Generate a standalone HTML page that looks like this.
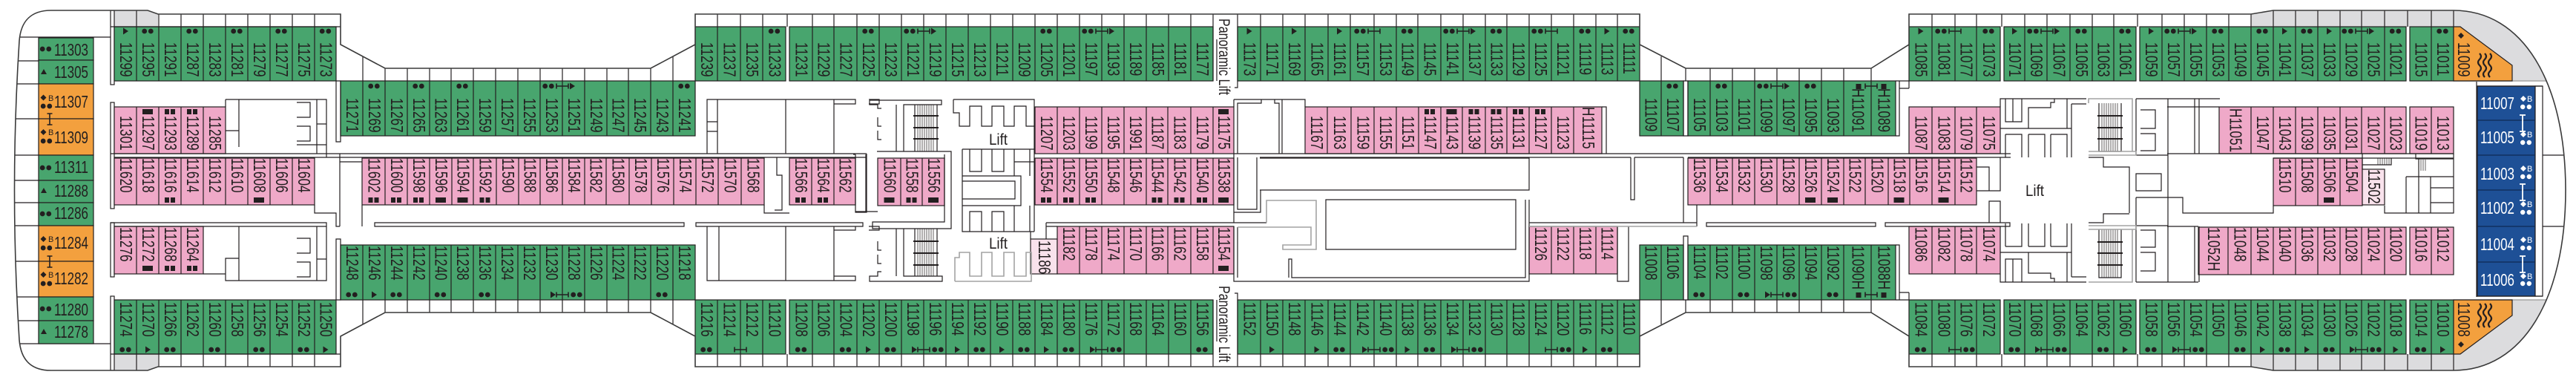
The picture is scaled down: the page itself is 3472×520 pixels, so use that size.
<!DOCTYPE html>
<html><head><meta charset="utf-8"><style>
html,body{margin:0;padding:0;background:#fff;width:3472px;height:520px;overflow:hidden}
svg{display:block}
.g{fill:#48a56e;stroke:#231f20;stroke-width:1.2}
.p{fill:#efa9c8;stroke:#231f20;stroke-width:1.2}
.lp{fill:#f9e2ec;stroke:#231f20;stroke-width:1.2}
.o{fill:#f3a03e;stroke:#231f20;stroke-width:1.2}
.w{fill:#fff;stroke:#231f20;stroke-width:1.2}
.gy{fill:#dcdcde}
.ln{fill:none;stroke:#231f20;stroke-width:1.2}
.ht{fill:none;stroke:#231f20;stroke-width:.7}
.lg{fill:none;stroke:#a3a3a3;stroke-width:1.6}
.dt{fill:none;stroke:#231f20;stroke-width:6.8;stroke-linecap:round}
.dw{fill:none;stroke:#fff;stroke-width:6.4;stroke-linecap:round}
.cn{fill:none;stroke:#231f20;stroke-width:1.6}
.cw{fill:none;stroke:#fff;stroke-width:1.8}
.f{fill:#231f20}
.fw{fill:#fff}
.wv{fill:none;stroke:#231f20;stroke-width:2.2}
.t text{font-family:"Liberation Sans",sans-serif;font-size:23px;fill:#231f20;dominant-baseline:central}
.h{font-family:"Liberation Sans",sans-serif;font-size:23px;fill:#231f20}
.hw{font-family:"Liberation Sans",sans-serif;font-size:23px;fill:#fff}
.sb{font-family:"Liberation Sans",sans-serif;font-size:11px;fill:#231f20}
.sbw{font-family:"Liberation Sans",sans-serif;font-size:11px;fill:#fff}
.lf{font-family:"Liberation Sans",sans-serif;font-size:21px;fill:#231f20}
</style></head><body>
<svg width="3472" height="520" viewBox="0 0 3472 520" xmlns="http://www.w3.org/2000/svg">
<clipPath id="hc"><path d="M213 19H459V60L519 92H877L937 60V19H2210V60L2272 92H2522L2573 60V19H3034L3064 14H3307C3400 14 3458 110 3458 256.5C3458 403 3400 499 3307 499H3064L3034 494H2573V453L2522 421H2272L2210 453V494H937V453L877 421H519L459 453V494H213L199 499H69C40 499 28 483 26 458Q13 256.5 26 55C28 30 40 14 69 14H199Z"/></clipPath>
<path d="M213 19H459V60L519 92H877L937 60V19H2210V60L2272 92H2522L2573 60V19H3034L3064 14H3307C3400 14 3458 110 3458 256.5C3458 403 3400 499 3307 499H3064L3034 494H2573V453L2522 421H2272L2210 453V494H937V453L877 421H519L459 453V494H213L199 499H69C40 499 28 483 26 458Q13 256.5 26 55C28 30 40 14 69 14H199Z" fill="#fff"/>
<g clip-path="url(#hc)">
<g class="gy"><rect x="149" y="0" width="64" height="36"/><rect x="149" y="477" width="64" height="43"/><rect x="3034" y="0" width="273" height="36"/><rect x="3307" y="0" width="170" height="109"/><rect x="3034" y="477" width="273" height="43"/><rect x="3307" y="404" width="170" height="116"/></g>
<path class="ln" d="M0 50H149M0 82H52M0 113H52M0 160H52M0 209H52M0 243H52M0 273H52M0 304H52M0 352H52M0 400H52M0 432H52M0 463H149M3427 209H3470M3427 305H3470"/>
<path class="lg" d="M3307 109H3470M3307 404H3470"/>
<rect class="g" x="52" y="51" width="74" height="30"/><rect class="g" x="52" y="81" width="74" height="32"/><rect class="o" x="52" y="113" width="74" height="47"/><rect class="o" x="52" y="160" width="74" height="49"/><rect class="g" x="52" y="209" width="74" height="34"/><rect class="g" x="52" y="243" width="74" height="30"/><rect class="g" x="52" y="273" width="74" height="31"/><rect class="o" x="52" y="304" width="74" height="48"/><rect class="o" x="52" y="352" width="74" height="48"/><rect class="g" x="52" y="400" width="74" height="32"/><rect class="g" x="52" y="432" width="74" height="31"/>
<rect class="w" x="149" y="14" width="5" height="100"/><rect class="w" x="149" y="138" width="5" height="143"/><rect class="w" x="149" y="300" width="5" height="73"/><rect class="w" x="149" y="399" width="5" height="100"/>
<rect class="g" x="154" y="36" width="299" height="73"/><rect class="g" x="154" y="404" width="299" height="73"/>
<rect class="g" x="459" y="109" width="478" height="74"/><rect class="g" x="459" y="330" width="478" height="74"/>
<rect class="g" x="937" y="36" width="122" height="73"/><rect class="g" x="1064" y="36" width="571" height="73"/><rect class="g" x="1668" y="36" width="542" height="73"/>
<rect class="g" x="937" y="404" width="122" height="73"/><rect class="g" x="1064" y="404" width="571" height="73"/><rect class="g" x="1668" y="404" width="542" height="73"/>
<rect class="g" x="2210" y="109" width="59" height="74"/><rect class="g" x="2275" y="109" width="280" height="74"/><rect class="g" x="2210" y="330" width="59" height="74"/><rect class="g" x="2275" y="330" width="280" height="74"/>
<rect class="g" x="2573" y="36" width="123" height="73"/><rect class="g" x="2701" y="36" width="178" height="73"/><rect class="g" x="2884" y="36" width="359" height="73"/><rect class="g" x="3248" y="36" width="59" height="73"/>
<rect class="g" x="2573" y="404" width="123" height="73"/><rect class="g" x="2701" y="404" width="178" height="73"/><rect class="g" x="2884" y="404" width="359" height="73"/><rect class="g" x="3248" y="404" width="59" height="73"/>
<polygon class="o" points="3307,36 3316,36 3386,88 3386,109 3307,109"/><polygon class="o" points="3307,477 3316,477 3386,425 3386,404 3307,404"/>
<rect x="3339" y="116" width="78" height="283" fill="#1e5096" stroke="#231f20" stroke-width="1.2"/>
<rect class="w" x="3417" y="116" width="10" height="283"/>
<path d="M3339 162H3417M3339 209H3417M3339 256H3417M3339 305H3417M3339 353H3417" stroke="#0f2a55" stroke-width="1.2" fill="none"/>
<rect class="p" x="154" y="144" width="150" height="63"/><rect class="p" x="154" y="213" width="270" height="63"/><rect class="p" x="154" y="305" width="120" height="64"/>
<rect class="p" x="488" y="213" width="542" height="63"/><rect class="p" x="1064" y="213" width="89" height="63"/><rect class="p" x="1183" y="213" width="90" height="64"/>
<rect class="p" x="1395" y="144" width="268" height="63"/><rect class="p" x="1395" y="213" width="268" height="63"/><rect class="lp" x="1389" y="322" width="36" height="47"/><rect class="p" x="1425" y="305" width="238" height="64"/>
<rect class="p" x="1759" y="144" width="400" height="63"/><rect class="p" x="2061" y="305" width="119" height="64"/><rect class="p" x="2275" y="213" width="389" height="63"/>
<rect class="p" x="2573" y="144" width="123" height="63"/><rect class="p" x="2573" y="305" width="123" height="64"/>
<rect class="p" x="2991" y="144" width="252" height="63"/><rect class="p" x="3248" y="144" width="59" height="63"/>
<rect class="p" x="3064" y="213" width="120" height="64"/><rect class="lp" x="3184" y="228" width="30" height="48"/>
<rect class="p" x="2963" y="306" width="280" height="64"/><rect class="p" x="3248" y="306" width="59" height="64"/>
<path class="ln" d="M149 36H459M149 477H459M184 14V109M214 19V109M244 19V109M274 19V109M304 19V109M334 19V109M364 19V109M394 19V109M424 19V109M184 404V499M214 404V494M244 404V494M274 404V494M304 404V494M334 404V494M364 404V494M394 404V494M424 404V494
M489 76V183M519 92V183M549 92V183M579 92V183M608 92V183M638 92V183M668 92V183M698 92V183M728 92V183M758 92V183M788 92V183M818 92V183M847 92V183M877 92V183M907 76V183
M489 330V437M519 330V421M549 330V421M579 330V421M608 330V421M638 330V421M668 330V421M698 330V421M728 330V421M758 330V421M788 330V421M818 330V421M847 330V421M877 330V421M907 330V437
M967 19V109M998 19V109M1028 19V109M1061 19V36M1095 19V109M1124 19V109M1155 19V109M1185 19V109M1215 19V109M1245 19V109M1275 19V109M1305 19V109M1335 19V109M1365 19V109M1395 19V109M1425 19V109M1455 19V109M1485 19V109M1515 19V109M1545 19V109M1575 19V109M1605 19V109M1635 19V109M1668 19V118H1664M1699 19V109M1729 19V109M1759 19V109M1790 19V109M1820 19V109M1852 19V109M1882 19V109M1911 19V109M1942 19V109M1972 19V109M2002 19V109M2031 19V109M2061 19V109M2091 19V109M2121 19V109M2151 19V109M2180 19V109M1640 53V109
M967 404V494M998 404V494M1028 404V494M1061 477V494M1095 404V494M1124 404V494M1155 404V494M1185 404V494M1215 404V494M1245 404V494M1275 404V494M1305 404V494M1335 404V494M1365 404V494M1395 404V494M1425 404V494M1455 404V494M1485 404V494M1515 404V494M1545 404V494M1575 404V494M1605 404V494M1635 404V494M1668 494V395H1664M1699 404V494M1729 404V494M1759 404V494M1790 404V494M1820 404V494M1852 404V494M1882 404V494M1911 404V494M1942 404V494M1972 404V494M2002 404V494M2031 404V494M2061 404V494M2091 404V494M2121 404V494M2151 404V494M2180 404V494M1640 404V460
M2239 76V183M2272 92V109M2305 92V183M2335 92V183M2365 92V183M2395 92V183M2425 92V183M2455 92V183M2485 92V183M2522 92V183M2239 330V437M2272 404V421M2305 330V421M2335 330V421M2365 330V421M2395 330V421M2425 330V421M2455 330V421M2485 330V421M2522 330V421
M2269 109H2275V183H2269ZM2269 318H2275V404H2269ZM2555 109H2573V119M2560 109V183H2555M2560 119H2573M2555 404H2573V394M2560 404V330H2555M2560 394H2573
M2604 14V109M2635 14V109M2664 14V109M2698 14V36M2729 14V109M2759 14V109M2790 14V109M2820 14V109M2849 14V109M2881 14V36M2914 14V109M2944 14V109M2974 14V109M3004 14V109M3034 14V109M3064 14V109M3094 14V109M3124 14V109M3154 14V109M3183 14V109M3214 14V109M3245 14V36M3277 14V109M3307 14V36
M2604 404V499M2635 404V499M2664 404V499M2698 477V499M2729 404V499M2759 404V499M2790 404V499M2820 404V499M2849 404V499M2881 477V499M2914 404V499M2944 404V499M2974 404V499M3004 404V499M3034 404V499M3064 404V499M3094 404V499M3124 404V499M3154 404V499M3183 404V499M3214 404V499M3245 477V499M3277 404V499M3307 477V499
M184 144V207M214 144V207M244 144V207M274 144V207M184 213V276M214 213V276M244 213V276M274 213V276M304 213V276M334 213V276M364 213V276M394 213V276M184 305V369M214 305V369M244 305V369
M519 213V276M549 213V276M579 213V276M609 213V276M638 213V276M669 213V276M699 213V276M728 213V276M758 213V276M788 213V276M817 213V276M848 213V276M878 213V276M908 213V276M938 213V276M968 213V276M999 213V276M1094 213V276M1124 213V276M1214 213V277M1243 213V277
M1425 144V207M1455 144V207M1485 144V207M1515 144V207M1545 144V207M1574 144V207M1605 144V207M1635 144V207M1425 213V276M1455 213V276M1485 213V276M1515 213V276M1545 213V276M1574 213V276M1605 213V276M1635 213V276M1455 305V369M1485 305V369M1515 305V369M1545 305V369M1574 305V369M1605 305V369M1635 305V369
M1789 144V207M1821 144V207M1852 144V207M1882 144V207M1912 144V207M1942 144V207M1971 144V207M2002 144V207M2031 144V207M2061 144V207M2091 144V207M2121 144V207M2091 305V369M2121 305V369M2151 305V369
M2305 213V276M2335 213V276M2365 213V276M2395 213V276M2425 213V276M2455 213V276M2485 213V276M2514 213V276M2545 213V276M2574 213V276M2604 213V276M2635 213V276M2604 144V207M2635 144V207M2664 144V207M2604 305V369M2635 305V369M2664 305V369
M3034 144V207M3064 144V207M3094 144V207M3124 144V207M3154 144V207M3183 144V207M3214 144V207M3277 144V207M3094 213V277M3124 213V277M3154 213V277M3003 306V370M3034 306V370M3064 306V370M3094 306V370M3124 306V370M3154 306V370M3183 306V370M3214 306V370M3277 306V370"/>
<path class="ln" d="M304 134H440V212M304 134V144M322 134V198M304 176H322M427 134V207M427 167H440M400 138H418V158H400M400 170H418V190H400M400 195H440
M149 207H1168M154 212H1168
M149 300H440V378H304V348H322M322 305V378M154 305H440M427 305V378M427 349H440M400 321H418V341H400M400 353H418V373H400M274 369H304
M424 276V287H453V305H458M458 207V305M458 218H488M488 276V305M453 109H459V191H453ZM453 322H459V404H453Z
M505 300H922V305H505ZM938 300H1163V305H938Z
M953 207V134H1124V207M967 134V207M953 164H967M953 177H967M1059 134V207M1124 134H1153V140H1124M1171 134H1185V140H1171
M953 305V378H1124V305M969 305V378M1059 305V378M1124 305H1153V310H1124M1124 372H1153V378H1124M1171 305H1185V310H1171
M1030 276V287H1064M1047 212V236H1054V283H1044M1153 212V286H1168V207
M1153 208V285H1167V208M1150 208H1153M1167 285H1183
M1172 135H1269V141H1218V204M1208 141V204M1172 135V141H1183V146H1188M1183 158V170H1188M1183 176V188H1188M1182 204H1282V308H1176V299H1273V208M1218 308V372H1270V379H1172V372H1183V366H1188M1208 308V372M1183 343V355H1188M1183 325V337H1188
M1233 141V204H1263V141M1233 308V372H1263V308
M1285 134H1394V312M1285 134V152H1293V170H1307V143H1323V170H1337V143H1353V170H1367V143H1383V170H1394
M1297 201H1394M1297 201V312H1394M1307 201V231H1323V201M1337 201V231H1353V201M1297 237H1376V277H1297M1297 244H1368V268H1297M1367 201V237M1367 277V312M1388 201V237M1388 277V312M1307 312V285H1323V312M1337 312V285H1353V312M1367 218H1394
M1410 300H1707M1410 305H1425M1410 300V322M1389 312V322
M1663 134H1759V144M1728 134V207M1668 207V139H1700V134M1718 134V139H1724V207M1663 134V144
M1668 212V282H1694V212M1698 213H2061V256H1698M1663 207V300M1663 286H1699V256
M1787 269H2043V336H1787ZM2056 269V374H1741V349H1737V374M2061 269V379H1663V305M1668 306V374
M1663 207H2710M1698 212H2198M2203 212H2269M2275 212H2710
M2159 144H2165V207H2159M2198 212V269H2203V212M2269 212V300M2287 276V305M2061 300H2287M2180 305V379H2195V305
M2300 300H2528V305H2300ZM2541 300H2709V305H2541Z
M2664 225H2681V257M2664 257H2696V212M2681 271H2696V300H2681Z
M2696 144V133H2812M2703 133V164H2725V133M2713 133V164M2696 173H2792M2734 173V145H2764V138H2769V133M2786 133V173M2792 140V212M2792 140H2812
M2703 181V212M2703 181H2725V212M2734 181V212M2734 181H2756V212M2764 181V212M2764 181H2786V212
M2696 369V380H2812M2703 380V349H2725V380M2713 380V349M2696 340H2792M2734 340V368H2764V375H2769V380M2786 380V340M2792 373V301M2792 373H2812
M2703 332V301M2703 332H2725V301M2734 332V301M2734 332H2756V301M2764 332V301M2764 332H2786V301
M2829 139V204H2859V139M2829 309V374H2859V309
M2879 133H2992M2879 133V209M2922 133V287M2958 133V207M2964 133V207M2885 148H2905V173H2885M2885 180H2905V203H2885M2879 209H2922
M2879 380H2963M2879 304V380M2922 287V380M2958 305V380M2964 305V380M2885 365H2905V340H2885M2885 333H2905V310H2885M2879 304H2922
M2815 212H2835V225H2870V287M2815 300H2835V288H2870M2879 234H2913V257H2879ZM2879 266H2942V287H3064V277M2879 266V304
M2921 207H3307M2921 144H2991M3064 213H3307M2921 305H2963
M3184 207V228M3184 213H3223V222H3184
M3256 207V214H3307M3260 214V287
M3243 238V287M3243 238H3307M3276 238V287M3276 253H3307M3276 273H3307M3214 277V287H3307V207
M3338 110V400M3338 116H3427M3338 399H3427"/>
<path class="ht" d="M1237 141V204M1240 141V204M1243 141V204M1246 141V204M1249 141V204M1252 141V204M1255 141V204M1258 141V204
M1237 308V372M1240 308V372M1243 308V372M1246 308V372M1249 308V372M1252 308V372M1255 308V372M1258 308V372
M2833 139V204M2836 139V204M2839 139V204M2842 139V204M2845 139V204M2848 139V204M2851 139V204M2854 139V204
M2833 309V374M2836 309V374M2839 309V374M2842 309V374M2845 309V374M2848 309V374M2851 309V374M2854 309V374
M3205 213V222M3208 213V222M3211 213V222M3214 213V222M3217 213V222M3220 213V222M3263 215V230M3266 215V230M3269 215V230"/>
<path class="ln" style="stroke-width:2" d="M1231 156H1265M1231 172H1265M1231 187H1265M1231 325H1265M1231 341H1265M1231 357H1265M2827 156H2861M2827 172H2861M2827 187H2861M2827 326H2861M2827 341H2861M2827 357H2861"/>
<path class="lg" d="M1287 379V347H1293V340H1307V372H1323V340H1337V372H1353V340H1367V372H1383V340H1390V379H1287M1707 300V270H1774V336H1729V330H1767V306H1668M2061 305H2287M2815 139V133H2874V204M2815 204H2879V209H2815M2815 380H2874V309M2815 309H2879V304H2815"/>
</g>
<path d="M213 19H459V60L519 92H877L937 60V19H2210V60L2272 92H2522L2573 60V19H3034L3064 14H3307C3400 14 3458 110 3458 256.5C3458 403 3400 499 3307 499H3064L3034 494H2573V453L2522 421H2272L2210 453V494H937V453L877 421H519L459 453V494H213L199 499H69C40 499 28 483 26 458Q13 256.5 26 55C28 30 40 14 69 14H199Z" fill="none" stroke="#3a3a3a" stroke-width="1.6"/>
<g class="t" transform="rotate(90) scale(.75 1)">
<text x="76" y="-169">11299</text><text x="76" y="-199">11295</text><text x="76" y="-229">11291</text><text x="76" y="-259">11287</text><text x="76" y="-289">11283</text><text x="76" y="-319">11281</text><text x="76" y="-349">11279</text><text x="76" y="-379">11277</text><text x="76" y="-409">11275</text><text x="76" y="-438.5">11273</text>
<text x="542.7" y="-169">11274</text><text x="542.7" y="-199">11270</text><text x="542.7" y="-229">11266</text><text x="542.7" y="-259">11262</text><text x="542.7" y="-289">11260</text><text x="542.7" y="-319">11258</text><text x="542.7" y="-349">11256</text><text x="542.7" y="-379">11254</text><text x="542.7" y="-409">11252</text><text x="542.7" y="-438.5">11250</text>
<text x="176" y="-474">11271</text><text x="176" y="-504">11269</text><text x="176" y="-534">11267</text><text x="176" y="-564">11265</text><text x="176" y="-593.5">11263</text><text x="176" y="-623">11261</text><text x="176" y="-653">11259</text><text x="176" y="-683">11257</text><text x="176" y="-713">11255</text><text x="176" y="-743">11253</text><text x="176" y="-773">11251</text><text x="176" y="-803">11249</text><text x="176" y="-832.5">11247</text><text x="176" y="-862">11245</text><text x="176" y="-892">11243</text><text x="176" y="-922">11241</text>
<text x="441.3" y="-474">11248</text><text x="441.3" y="-504">11246</text><text x="441.3" y="-534">11244</text><text x="441.3" y="-564">11242</text><text x="441.3" y="-593.5">11240</text><text x="441.3" y="-623">11238</text><text x="441.3" y="-653">11236</text><text x="441.3" y="-683">11234</text><text x="441.3" y="-713">11232</text><text x="441.3" y="-743">11230</text><text x="441.3" y="-773">11228</text><text x="441.3" y="-803">11226</text><text x="441.3" y="-832.5">11224</text><text x="441.3" y="-862">11222</text><text x="441.3" y="-892">11220</text><text x="441.3" y="-922">11218</text>
<text x="76" y="-952">11239</text><text x="76" y="-982.5">11237</text><text x="76" y="-1013">11235</text><text x="76" y="-1043.5">11233</text><text x="76" y="-1079.5">11231</text><text x="76" y="-1109.5">11229</text><text x="76" y="-1139.5">11227</text><text x="76" y="-1170">11225</text><text x="76" y="-1200">11223</text><text x="76" y="-1230">11221</text><text x="76" y="-1260">11219</text><text x="76" y="-1290">11215</text><text x="76" y="-1320">11213</text><text x="76" y="-1350">11211</text><text x="76" y="-1380">11209</text><text x="76" y="-1410">11205</text><text x="76" y="-1440">11201</text><text x="76" y="-1470">11197</text><text x="76" y="-1500">11193</text><text x="76" y="-1530">11189</text><text x="76" y="-1560">11185</text><text x="76" y="-1590">11181</text><text x="76" y="-1620">11177</text>
<text x="76" y="-1683.5">11173</text><text x="76" y="-1714">11171</text><text x="76" y="-1744">11169</text><text x="76" y="-1774.5">11165</text><text x="76" y="-1805">11161</text><text x="76" y="-1836">11157</text><text x="76" y="-1867">11153</text><text x="76" y="-1896.5">11149</text><text x="76" y="-1926.5">11145</text><text x="76" y="-1957">11141</text><text x="76" y="-1987">11137</text><text x="76" y="-2016.5">11133</text><text x="76" y="-2046">11129</text><text x="76" y="-2076">11125</text><text x="76" y="-2106">11121</text><text x="76" y="-2136">11119</text><text x="76" y="-2165.5">11113</text><text x="76" y="-2195">11111</text>
<text x="542.7" y="-952">11216</text><text x="542.7" y="-982.5">11214</text><text x="542.7" y="-1013">11212</text><text x="542.7" y="-1043.5">11210</text><text x="542.7" y="-1079.5">11208</text><text x="542.7" y="-1109.5">11206</text><text x="542.7" y="-1139.5">11204</text><text x="542.7" y="-1170">11202</text><text x="542.7" y="-1200">11200</text><text x="542.7" y="-1230">11198</text><text x="542.7" y="-1260">11196</text><text x="542.7" y="-1290">11194</text><text x="542.7" y="-1320">11192</text><text x="542.7" y="-1350">11190</text><text x="542.7" y="-1380">11188</text><text x="542.7" y="-1410">11184</text><text x="542.7" y="-1440">11180</text><text x="542.7" y="-1470">11176</text><text x="542.7" y="-1500">11172</text><text x="542.7" y="-1530">11168</text><text x="542.7" y="-1560">11164</text><text x="542.7" y="-1590">11160</text><text x="542.7" y="-1620">11156</text>
<text x="542.7" y="-1683.5">11152</text><text x="542.7" y="-1714">11150</text><text x="542.7" y="-1744">11148</text><text x="542.7" y="-1774.5">11146</text><text x="542.7" y="-1805">11144</text><text x="542.7" y="-1836">11142</text><text x="542.7" y="-1867">11140</text><text x="542.7" y="-1896.5">11138</text><text x="542.7" y="-1926.5">11136</text><text x="542.7" y="-1957">11134</text><text x="542.7" y="-1987">11132</text><text x="542.7" y="-2016.5">11130</text><text x="542.7" y="-2046">11128</text><text x="542.7" y="-2076">11124</text><text x="542.7" y="-2106">11120</text><text x="542.7" y="-2136">11116</text><text x="542.7" y="-2165.5">11112</text><text x="542.7" y="-2195">11110</text>
<text x="176" y="-2224.5">11109</text><text x="176" y="-2254">11107</text><text x="176" y="-2290">11105</text><text x="176" y="-2320">11103</text><text x="176" y="-2350">11101</text><text x="176" y="-2380">11099</text><text x="176" y="-2410">11097</text><text x="176" y="-2440">11095</text><text x="176" y="-2470">11093</text><text x="158.7" y="-2503.5">H11091</text><text x="158.7" y="-2538.5">H11089</text>
<text x="441.3" y="-2224.5">11008</text><text x="441.3" y="-2254">11106</text><text x="441.3" y="-2290">11104</text><text x="441.3" y="-2320">11102</text><text x="441.3" y="-2350">11100</text><text x="441.3" y="-2380">11098</text><text x="441.3" y="-2410">11096</text><text x="441.3" y="-2440">11094</text><text x="441.3" y="-2470">11092</text><text x="441.3" y="-2503.5">11090H</text><text x="441.3" y="-2538.5">11088H</text>
<text x="76" y="-2588.5">11085</text><text x="76" y="-2619.5">11081</text><text x="76" y="-2649.5">11077</text><text x="76" y="-2680">11073</text><text x="76" y="-2715">11071</text><text x="76" y="-2744">11069</text><text x="76" y="-2774.5">11067</text><text x="76" y="-2805">11065</text><text x="76" y="-2834.5">11063</text><text x="76" y="-2864">11061</text><text x="76" y="-2899">11059</text><text x="76" y="-2929">11057</text><text x="76" y="-2959">11055</text><text x="76" y="-2989">11053</text><text x="76" y="-3019">11049</text><text x="76" y="-3049">11045</text><text x="76" y="-3079">11041</text><text x="76" y="-3109">11037</text><text x="76" y="-3139">11033</text><text x="76" y="-3168.5">11029</text><text x="76" y="-3198.5">11025</text><text x="76" y="-3228.5">11021</text><text x="76" y="-3262.5">11015</text><text x="76" y="-3292">11011</text><text x="76" y="-3320">11009</text>
<text x="542.7" y="-2588.5">11084</text><text x="542.7" y="-2619.5">11080</text><text x="542.7" y="-2649.5">11076</text><text x="542.7" y="-2680">11072</text><text x="542.7" y="-2715">11070</text><text x="542.7" y="-2744">11068</text><text x="542.7" y="-2774.5">11066</text><text x="542.7" y="-2805">11064</text><text x="542.7" y="-2834.5">11062</text><text x="542.7" y="-2864">11060</text><text x="542.7" y="-2899">11058</text><text x="542.7" y="-2929">11056</text><text x="542.7" y="-2959">11054</text><text x="542.7" y="-2989">11050</text><text x="542.7" y="-3019">11046</text><text x="542.7" y="-3049">11042</text><text x="542.7" y="-3079">11038</text><text x="542.7" y="-3109">11034</text><text x="542.7" y="-3139">11030</text><text x="542.7" y="-3168.5">11026</text><text x="542.7" y="-3198.5">11022</text><text x="542.7" y="-3228.5">11018</text><text x="542.7" y="-3262.5">11014</text><text x="542.7" y="-3292">11010</text><text x="542.7" y="-3320">11008</text>
<text x="208" y="-169">11301</text><text x="208" y="-199">11297</text><text x="208" y="-229">11293</text><text x="208" y="-259">11289</text><text x="208" y="-289">11285</text>
<text x="284" y="-169">11620</text><text x="284" y="-199">11618</text><text x="284" y="-229">11616</text><text x="284" y="-259">11614</text><text x="284" y="-289">11612</text><text x="284" y="-319">11610</text><text x="284" y="-349">11608</text><text x="284" y="-379">11606</text><text x="284" y="-409">11604</text>
<text x="408" y="-169">11276</text><text x="408" y="-199">11272</text><text x="408" y="-229">11268</text><text x="408" y="-259">11264</text>
<text x="284" y="-503.5">11602</text><text x="284" y="-534">11600</text><text x="284" y="-564">11598</text><text x="284" y="-594">11596</text><text x="284" y="-623.5">11594</text><text x="284" y="-653.5">11592</text><text x="284" y="-684">11590</text><text x="284" y="-713.5">11588</text><text x="284" y="-743">11586</text><text x="284" y="-773">11584</text><text x="284" y="-802.5">11582</text><text x="284" y="-832.5">11580</text><text x="284" y="-863">11578</text><text x="284" y="-893">11576</text><text x="284" y="-923">11574</text><text x="284" y="-953">11572</text><text x="284" y="-983.5">11570</text><text x="284" y="-1014.5">11568</text>
<text x="284" y="-1079">11566</text><text x="284" y="-1109">11564</text><text x="284" y="-1138.5">11562</text><text x="284" y="-1198.5">11560</text><text x="284" y="-1228.5">11558</text><text x="284" y="-1258">11556</text>
<text x="208" y="-1410">11207</text><text x="208" y="-1440">11203</text><text x="208" y="-1470">11199</text><text x="208" y="-1500">11195</text><text x="208" y="-1530">11991</text><text x="208" y="-1559.5">11187</text><text x="208" y="-1589.5">11183</text><text x="208" y="-1620">11179</text><text x="208" y="-1649">11175</text>
<text x="284" y="-1410">11554</text><text x="284" y="-1440">11552</text><text x="284" y="-1470">11550</text><text x="284" y="-1500">11548</text><text x="284" y="-1530">11546</text><text x="284" y="-1559.5">11544</text><text x="284" y="-1589.5">11542</text><text x="284" y="-1620">11540</text><text x="284" y="-1649">11538</text>
<text x="432" y="-1407">11186</text><text x="408" y="-1440">11182</text><text x="408" y="-1470">11178</text><text x="408" y="-1500">11174</text><text x="408" y="-1530">11170</text><text x="408" y="-1559.5">11166</text><text x="408" y="-1589.5">11162</text><text x="408" y="-1620">11158</text><text x="408" y="-1649">11154</text>
<text x="208" y="-1774">11167</text><text x="208" y="-1805">11163</text><text x="208" y="-1836.5">11159</text><text x="208" y="-1867">11155</text><text x="208" y="-1897">11151</text><text x="208" y="-1927">11147</text><text x="208" y="-1956.5">11143</text><text x="208" y="-1986.5">11139</text><text x="208" y="-2016.5">11135</text><text x="208" y="-2046">11131</text><text x="208" y="-2076">11127</text><text x="208" y="-2106">11123</text><text x="192" y="-2140">H11115</text>
<text x="408" y="-2076">11126</text><text x="408" y="-2106">11122</text><text x="408" y="-2136">11118</text><text x="408" y="-2165.5">11114</text>
<text x="284" y="-2290">11536</text><text x="284" y="-2320">11534</text><text x="284" y="-2350">11532</text><text x="284" y="-2380">11530</text><text x="284" y="-2410">11528</text><text x="284" y="-2440">11526</text><text x="284" y="-2470">11524</text><text x="284" y="-2499.5">11522</text><text x="284" y="-2529.5">11520</text><text x="284" y="-2559.5">11518</text><text x="284" y="-2589">11516</text><text x="284" y="-2619.5">11514</text><text x="284" y="-2649.5">11512</text>
<text x="208" y="-2588.5">11087</text><text x="208" y="-2619.5">11083</text><text x="208" y="-2649.5">11079</text><text x="208" y="-2680">11075</text>
<text x="408" y="-2588.5">11086</text><text x="408" y="-2619.5">11082</text><text x="408" y="-2649.5">11078</text><text x="408" y="-2680">11074</text>
<text x="194.7" y="-3012.5">H11051</text><text x="208" y="-3049">11047</text><text x="208" y="-3079">11043</text><text x="208" y="-3109">11039</text><text x="208" y="-3139">11035</text><text x="208" y="-3168.5">11031</text><text x="208" y="-3198.5">11027</text><text x="208" y="-3228.5">11023</text><text x="208" y="-3262.5">11019</text><text x="208" y="-3292">11013</text>
<text x="284" y="-3079">11510</text><text x="284" y="-3109">11508</text><text x="284" y="-3139">11506</text><text x="284" y="-3169">11504</text><text x="304" y="-3199">11502</text>
<text x="408" y="-2983">11052H</text><text x="408" y="-3018.5">11048</text><text x="408" y="-3049">11044</text><text x="408" y="-3079">11040</text><text x="408" y="-3109">11036</text><text x="408" y="-3139">11032</text><text x="408" y="-3168.5">11028</text><text x="408" y="-3198.5">11024</text><text x="408" y="-3228.5">11020</text><text x="408" y="-3262.5">11016</text><text x="408" y="-3292">11012</text>
<text x="33.3" y="-1643" style="font-size:21.5px;dominant-baseline:alphabetic">Panoramic Lift</text>
<text x="513.3" y="-1643" style="font-size:21.5px;dominant-baseline:alphabetic">Panoramic Lift</text>
</g>
<g class="h">
<text x="73" y="75" textLength="46" lengthAdjust="spacingAndGlyphs">11303</text>
<text x="73" y="105" textLength="46" lengthAdjust="spacingAndGlyphs">11305</text>
<text x="73" y="145" textLength="46" lengthAdjust="spacingAndGlyphs">11307</text>
<text x="73" y="193" textLength="46" lengthAdjust="spacingAndGlyphs">11309</text>
<text x="73" y="233" textLength="46" lengthAdjust="spacingAndGlyphs">11311</text>
<text x="73" y="265" textLength="46" lengthAdjust="spacingAndGlyphs">11288</text>
<text x="73" y="295" textLength="46" lengthAdjust="spacingAndGlyphs">11286</text>
<text x="73" y="335" textLength="46" lengthAdjust="spacingAndGlyphs">11284</text>
<text x="73" y="383" textLength="46" lengthAdjust="spacingAndGlyphs">11282</text>
<text x="73" y="425" textLength="46" lengthAdjust="spacingAndGlyphs">11280</text>
<text x="73" y="455" textLength="46" lengthAdjust="spacingAndGlyphs">11278</text>
</g>
<g class="hw">
<text x="3343" y="147" textLength="46" lengthAdjust="spacingAndGlyphs">11007</text>
<text x="3343" y="193" textLength="46" lengthAdjust="spacingAndGlyphs">11005</text>
<text x="3343" y="242" textLength="46" lengthAdjust="spacingAndGlyphs">11003</text>
<text x="3343" y="288" textLength="46" lengthAdjust="spacingAndGlyphs">11002</text>
<text x="3343" y="337" textLength="46" lengthAdjust="spacingAndGlyphs">11004</text>
<text x="3343" y="385" textLength="46" lengthAdjust="spacingAndGlyphs">11006</text>
</g>
<g class="lf">
<text x="1333" y="195" textLength="25" lengthAdjust="spacingAndGlyphs">Lift</text>
<text x="1333" y="335" textLength="25" lengthAdjust="spacingAndGlyphs">Lift</text>
<text x="2730" y="264" textLength="25" lengthAdjust="spacingAndGlyphs">Lift</text>
</g>
<g class="sb"><text x="65" y="136">B</text><text x="65" y="182">B</text><text x="65" y="326">B</text><text x="65" y="374">B</text></g>
<g class="sbw"><text x="3406" y="137">B</text><text x="3406" y="185">B</text><text x="3406" y="231">B</text><text x="3406" y="279">B</text><text x="3406" y="327">B</text><text x="3406" y="376">B</text></g>
<path class="dt" d="M194.7 42h0m8.6 0h0M254.7 42h0m8.6 0h0M314.7 42h0m8.6 0h0M374.7 42h0m8.6 0h0M434.2 42h0m8.6 0h0
M164.7 471h0m8.6 0h0M224.7 471h0m8.6 0h0M284.7 471h0m8.6 0h0M344.7 471h0m8.6 0h0M404.7 471h0m8.6 0h0
M499.7 116h0m8.6 0h0M559.7 116h0m8.6 0h0M618.7 116h0m8.6 0h0M917.7 116h0m8.6 0h0M734.7 116h0m8.6 0h0
M469.7 397h0m8.6 0h0M529.7 397h0m8.6 0h0M589.2 397h0m8.6 0h0M648.7 397h0m8.6 0h0M887.7 397h0m8.6 0h0M772.7 397h0m8.6 0h0
M1039.2 42h0m8.6 0h0M1165.7 42h0m8.6 0h0M1405.7 42h0m8.6 0h0M1892.2 42h0m8.6 0h0M2012.2 42h0m8.6 0h0M2131.7 42h0m8.6 0h0M2190.7 42h0m8.6 0h0M1221.7 42h0m8.6 0h0M1461.7 42h0m8.6 0h0M1828.7 42h0m8.6 0h0M1948.7 42h0m8.6 0h0M2067.7 42h0m8.6 0h0
M947.7 471h0m8.6 0h0M1075.2 471h0m8.6 0h0M1135.2 471h0m8.6 0h0M1195.7 471h0m8.6 0h0M1315.7 471h0m8.6 0h0M1375.7 471h0m8.6 0h0M1435.7 471h0m8.6 0h0M1615.7 471h0m8.6 0h0M1800.7 471h0m8.6 0h0M1922.2 471h0m8.6 0h0M2161.2 471h0m8.6 0h0M1259.7 471h0m8.6 0h0M1499.7 471h0m8.6 0h0M1866.7 471h0m8.6 0h0M1986.7 471h0m8.6 0h0M2105.7 471h0m8.6 0h0
M2249.7 116h0m8.6 0h0M2315.7 116h0m8.6 0h0M2435.7 116h0m8.6 0h0M2371.7 116h0m8.6 0h0
M2285.7 397h0m8.6 0h0M2345.7 397h0m8.6 0h0M2465.7 397h0m8.6 0h0M2409.7 397h0m8.6 0h0
M2675.7 42h0m8.6 0h0M2800.7 42h0m8.6 0h0M2859.7 42h0m8.6 0h0M2984.7 42h0m8.6 0h0M3044.7 42h0m8.6 0h0M3104.7 42h0m8.6 0h0M3224.2 42h0m8.6 0h0M3287.7 42h0m8.6 0h0M2611.7 42h0m8.6 0h0M2735.7 42h0m8.6 0h0M2920.7 42h0m8.6 0h0M3159.7 42h0m8.6 0h0
M2584.2 471h0m8.6 0h0M2710.7 471h0m8.6 0h0M2830.2 471h0m8.6 0h0M2894.7 471h0m8.6 0h0M3014.7 471h0m8.6 0h0M3074.7 471h0m8.6 0h0M3134.7 471h0m8.6 0h0M3258.2 471h0m8.6 0h0M2649.7 471h0m8.6 0h0M2773.7 471h0m8.6 0h0M2958.7 471h0m8.6 0h0M3197.7 471h0m8.6 0h0
M57.2 66h0m8.6 0h0M58.2 143h0m8.6 0h0M58.2 190h0m8.6 0h0M57.2 226h0m8.6 0h0M57.2 288h0m8.6 0h0M58.2 334h0m8.6 0h0M58.2 382h0m8.6 0h0M57.2 416h0m8.6 0h0"/>
<path class="dw" d="M3400.2 144h0m8.6 0h0M3400.2 192h0m8.6 0h0M3400.2 238h0m8.6 0h0M3400.2 286h0m8.6 0h0M3400.2 334h0m8.6 0h0M3400.2 382h0m8.6 0h0"/>
<path class="f" d="M166 37.5l7 4.5-7 4.5zM196 466.5l7 4.5-7 4.5zM435.5 466.5l7 4.5-7 4.5zM768 111.5l7 4.5-7 4.5zM501 392.5l7 4.5-7 4.5zM742 392.5l7 4.5-7 4.5z
M1680.5 37.5l7 4.5-7 4.5zM1741 37.5l7 4.5-7 4.5zM1802 37.5l7 4.5-7 4.5zM2162.5 37.5l7 4.5-7 4.5zM1255 37.5l7 4.5-7 4.5zM1495 37.5l7 4.5-7 4.5zM1982 37.5l7 4.5-7 4.5z
M1167 466.5l7 4.5-7 4.5zM1287 466.5l7 4.5-7 4.5zM1347 466.5l7 4.5-7 4.5zM1407 466.5l7 4.5-7 4.5zM1711 466.5l7 4.5-7 4.5zM1771.5 466.5l7 4.5-7 4.5zM1893.5 466.5l7 4.5-7 4.5zM2133 466.5l7 4.5-7 4.5zM1229 466.5l7 4.5-7 4.5zM1469 466.5l7 4.5-7 4.5zM1836 466.5l7 4.5-7 4.5zM1956 466.5l7 4.5-7 4.5z
M2405 111.5l7 4.5-7 4.5zM2379 392.5l7 4.5-7 4.5z
M2585.5 37.5l7 4.5-7 4.5zM2712 37.5l7 4.5-7 4.5zM2896 37.5l7 4.5-7 4.5zM3076 37.5l7 4.5-7 4.5zM3136 37.5l7 4.5-7 4.5zM2769 37.5l7 4.5-7 4.5zM2954 37.5l7 4.5-7 4.5zM3193 37.5l7 4.5-7 4.5z
M2861 466.5l7 4.5-7 4.5zM3046 466.5l7 4.5-7 4.5zM3106 466.5l7 4.5-7 4.5zM3225.5 466.5l7 4.5-7 4.5zM3289 466.5l7 4.5-7 4.5zM2743 466.5l7 4.5-7 4.5zM2928 466.5l7 4.5-7 4.5zM3167 466.5l7 4.5-7 4.5z
M55 100l4-7 4 7zM55 260l4-7 4 7zM55 450l4-7 4 7z
M58.5 127.5l4 4-4 4-4-4zM58.5 174l4 4-4 4-4-4zM58.5 318l4 4-4 4-4-4zM58.5 366l4 4-4 4-4-4zM3317 44l4 4-4 4-4-4zM3317 460l4 4-4 4-4-4z
M192 147h14v7h-14zM222 147h6v7h-6zM230 147h6v7h-6zM252 147h6v7h-6zM260 147h6v7h-6zM1642 147h14v7h-14z
M1920 147h6v7h-6zM1928 147h6v7h-6zM1949.5 147h14v7h-14zM1979.5 147h6v7h-6zM1987.5 147h6v7h-6zM2009.5 147h6v7h-6zM2017.5 147h6v7h-6zM2039 147h6v7h-6zM2047 147h6v7h-6zM2069 147h6v7h-6zM2077 147h6v7h-6z
M222 266h6v7h-6zM230 266h6v7h-6zM342 266h14v7h-14zM496.5 266h6v7h-6zM504.5 266h6v7h-6zM527 266h6v7h-6zM535 266h6v7h-6zM557 266h6v7h-6zM565 266h6v7h-6zM587 266h14v7h-14zM616.5 266h14v7h-14zM646.5 266h6v7h-6zM654.5 266h6v7h-6z
M1072 266h6v7h-6zM1080 266h6v7h-6zM1102 266h6v7h-6zM1110 266h6v7h-6zM1191.5 266h14v7h-14zM1221.5 266h6v7h-6zM1229.5 266h6v7h-6zM1251 266h14v7h-14z
M1403 266h6v7h-6zM1411 266h6v7h-6zM1433 266h6v7h-6zM1441 266h6v7h-6zM1463 266h6v7h-6zM1471 266h6v7h-6zM1552.5 266h6v7h-6zM1560.5 266h6v7h-6zM1582.5 266h6v7h-6zM1590.5 266h6v7h-6zM1613 266h6v7h-6zM1621 266h6v7h-6zM1642 266h14v7h-14z
M2433 266h14v7h-14zM2463 266h14v7h-14zM2552.5 266h14v7h-14zM2612.5 266h14v7h-14zM3132 266h14v7h-14z
M192 358h14v7h-14zM222 358h6v7h-6zM230 358h6v7h-6zM252 358h6v7h-6zM260 358h6v7h-6zM1642 358h14v7h-14z
M2501.5 113h7v7h-7zM2535.5 113h7v7h-7zM2501.5 394h7v7h-7zM2535.5 394h7v7h-7z"/>
<path class="fw" d="M3401 129l4 4-4 4-4-4zM3401 177l4 4-4 4-4-4zM3401 223l4 4-4 4-4-4zM3401 271l4 4-4 4-4-4zM3401 319l4 4-4 4-4-4zM3401 368l4 4-4 4-4-4z"/>
<path class="cn" d="M750 116h16M750 112.5v7M766 112.5v7M750 397h16M750 393.5v7M766 393.5v7
M1237 42h16M1237 38.5v7M1253 38.5v7M1477 42h16M1477 38.5v7M1493 38.5v7M1844 42h16M1844 38.5v7M1860 38.5v7M1964 42h16M1964 38.5v7M1980 38.5v7M2083 42h16M2083 38.5v7M2099 38.5v7
M990 471h16M990 467.5v7M1006 467.5v7M1237 471h16M1237 467.5v7M1253 467.5v7M1477 471h16M1477 467.5v7M1493 467.5v7M1844 471h16M1844 467.5v7M1860 467.5v7M1964 471h16M1964 467.5v7M1980 467.5v7M2083 471h16M2083 467.5v7M2099 467.5v7
M2387 116h16M2387 112.5v7M2403 112.5v7M2514 116h16M2514 112.5v7M2530 112.5v7M2387 397h16M2387 393.5v7M2403 393.5v7M2514 397h16M2514 393.5v7M2530 393.5v7
M2627 42h16M2627 38.5v7M2643 38.5v7M2751 42h16M2751 38.5v7M2767 38.5v7M2936 42h16M2936 38.5v7M2952 38.5v7M3175 42h16M3175 38.5v7M3191 38.5v7
M2627 471h16M2627 467.5v7M2643 467.5v7M2751 471h16M2751 467.5v7M2767 467.5v7M2936 471h16M2936 467.5v7M2952 467.5v7M3175 471h16M3175 467.5v7M3191 467.5v7
M67 153V168M63.5 153h7M63.5 168h7M67 345V360M63.5 345h7M63.5 360h7"/>
<path class="cw" d="M3400 155V177M3396 155h8M3396 177h8M3400 248V270M3396 248h8M3396 270h8M3400 345V367M3396 345h8M3396 367h8"/>
<path class="wv" d="M3342 72q4 4 0 8t0 8t0 8t0 8M3349 72q4 4 0 8t0 8t0 8t0 8M3356 72q4 4 0 8t0 8t0 8t0 8M3342 409q4 4 0 8t0 8t0 8t0 8M3349 409q4 4 0 8t0 8t0 8t0 8M3356 409q4 4 0 8t0 8t0 8t0 8"/>
</svg>
</body></html>
